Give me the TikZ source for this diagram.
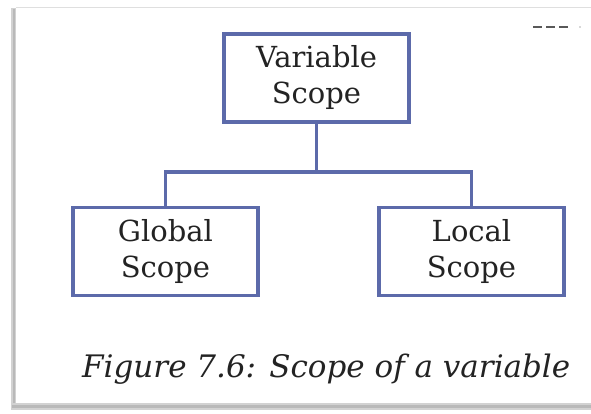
\documentclass[tikz,border=0pt]{standalone}
\usepackage{fontspec}
\setmainfont{DejaVu Serif}
\definecolor{boxblue}{RGB}{92,106,170}
\definecolor{ink}{RGB}{35,35,35}
\begin{document}
\begin{tikzpicture}[x=1pt,y=-1pt,
  box/.style={draw=boxblue,line width=3.2pt,minimum width=185pt,minimum height=88pt,
    align=center,font=\fontsize{29}{36}\selectfont,text=ink,inner sep=0pt},
  link/.style={draw=boxblue,line width=3.2pt}]
\useasboundingbox (0,0) rectangle (591,414);
\fill[white] (0,0) rectangle (591,414);
% page frame with shadow
\fill[gray!35] (11,8) rectangle (16,409);
\fill[gray!55] (12.5,9) rectangle (14.5,408);
\fill[gray!35] (11,403) rectangle (591,410);
\fill[gray!55] (12,405) rectangle (591,408);
\draw[gray!25,line width=1pt] (16,8) -- (591,8);
% cut-off fragment top right
\foreach \x in {533,546,559}{\draw[gray!70!black,line width=1.3pt] (\x,27) -- (\x+9,27);}
\fill[gray!60] (580,27) circle (0.8pt);
% boxes
\node[box] (var) at (316.5,78) {Variable\\Scope};
\node[box] (glo) at (165.5,251.5) {Global\\Scope};
\node[box] (loc) at (471.5,251.5) {Local\\Scope};
\coordinate (j) at (316.5,172);
\draw[link] (var.south) -- (j);
\draw[link] (glo.north) |- (j) -| (loc.north);
% caption
\node[anchor=base west,inner sep=0pt,font=\fontsize{31}{36}\selectfont\itshape,text=ink] (cap) at (82,377) {Figure 7.6: Scope of a variable};
\end{tikzpicture}
\end{document}
